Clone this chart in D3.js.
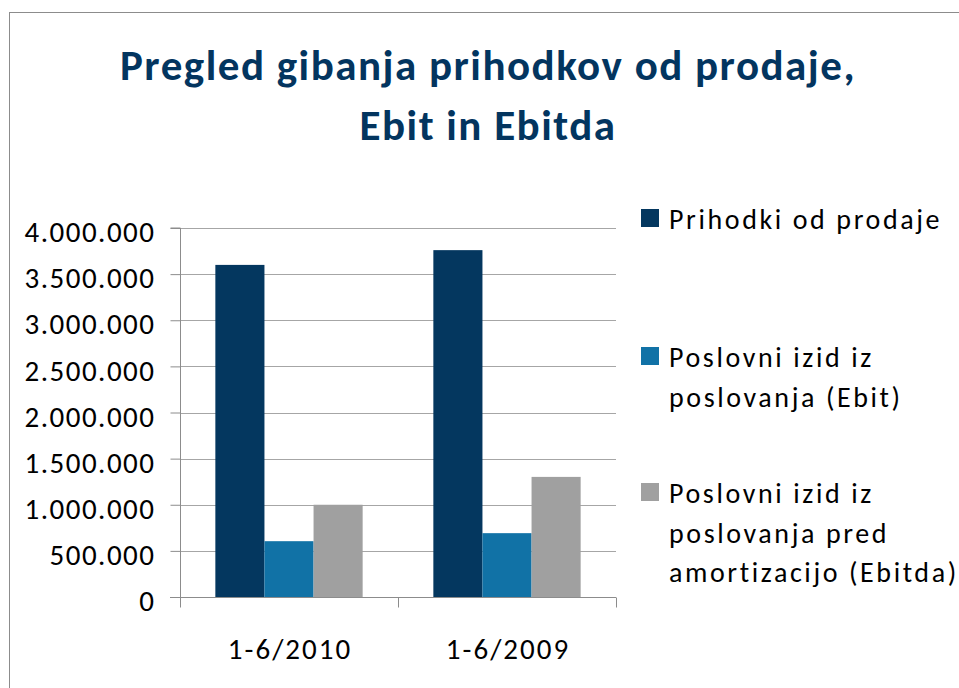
<!DOCTYPE html>
<html>
<head>
<meta charset="utf-8">
<script src="https://cdn.jsdelivr.net/npm/d3@7"></script>
<style>
  body { margin: 0; background: #fff; }
  text { font-family: Carlito, Lato, "Open Sans", sans-serif; }
</style>
</head>
<body>
<div id="chart"></div>
<script>
// chart values
var categories = ["1-6/2010", "1-6/2009"];
var seriesNames = [
  "Prihodki od prodaje",
  "Poslovni izid iz poslovanja (Ebit)",
  "Poslovni izid iz poslovanja pred amortizacijo (Ebitda)"
];
var prihodki = [3600000, 3760000];
var ebit = [605000, 692000];
var ebitda = [1000000, 1302000];
var yTicks = [0, 500000, 1000000, 1500000, 2000000, 2500000, 3000000, 3500000, 4000000];
var legendLines = [
  ["Prihodki od prodaje"],
  ["Poslovni izid iz", "poslovanja (Ebit)"],
  ["Poslovni izid iz", "poslovanja pred", "amortizacijo (Ebitda)"]
];
var titleLines = ["Pregled gibanja prihodkov od prodaje,", "Ebit in Ebitda"];

var colors = ["#04375f", "#1172a6", "#a0a0a0"];
var values = [prihodki, ebit, ebitda];

var width = 959, height = 688;
var plot = {left: 180, right: 616, top: 228, bottom: 597};

var svg = d3.select("#chart").append("svg")
    .attr("width", width)
    .attr("height", height);

// outer frame (runs off the right and bottom edge)
svg.append("rect")
    .attr("x", 9.5).attr("y", 12.5)
    .attr("width", 1000).attr("height", 1000)
    .attr("fill", "none")
    .attr("stroke", "#8c8c8c");

// title
svg.append("g").selectAll("text")
    .data(titleLines)
  .enter().append("text")
    .attr("x", 488)
    .attr("y", function(d, i) { return 80 + i * 60; })
    .attr("text-anchor", "middle")
    .attr("font-size", 43)
    .attr("font-weight", "bold")
    .attr("letter-spacing", 1.5)
    .attr("fill", "#03355f")
    .text(function(d) { return d; });

// scales
var y = d3.scaleLinear().domain([0, 4000000]).range([plot.bottom, plot.top]);
var x0 = d3.scaleBand().domain(categories).range([plot.left, plot.right]);
var x1 = d3.scaleBand().domain(d3.range(seriesNames.length))
    .range([0, x0.bandwidth()])
    .paddingInner(0).paddingOuter(0.72);

var fmt = d3.formatLocale({decimal: ",", thousands: ".", grouping: [3], currency: ["", ""]}).format(",d");

// gridlines
svg.append("g").selectAll("line")
    .data(yTicks.slice(1))
  .enter().append("line")
    .attr("x1", plot.left).attr("x2", plot.right)
    .attr("y1", function(d) { return Math.round(y(d)) + 0.5; })
    .attr("y2", function(d) { return Math.round(y(d)) + 0.5; })
    .attr("stroke", "#a6a6a6");

// bars
svg.append("g").selectAll("g")
    .data(categories)
  .enter().append("g")
    .attr("transform", function(d) { return "translate(" + x0(d) + ",0)"; })
  .selectAll("rect")
    .data(function(d, ci) { return values.map(function(v, si) { return {s: si, v: v[ci]}; }); })
  .enter().append("rect")
    .attr("x", function(d) { return x1(d.s); })
    .attr("width", x1.bandwidth())
    .attr("y", function(d) { return y(d.v); })
    .attr("height", function(d) { return y(0) - y(d.v); })
    .attr("fill", function(d) { return colors[d.s]; });

// y axis
var yAxis = svg.append("g")
    .attr("transform", "translate(" + (plot.left + 0.5) + ",0)")
    .call(d3.axisLeft(y).tickValues(yTicks).tickFormat(fmt).tickSize(10).tickPadding(15));
yAxis.select(".domain").attr("stroke", "#8c8c8c").attr("d", "M-10," + plot.top + "H0V" + plot.bottom);
yAxis.selectAll(".tick line").attr("stroke", "#8c8c8c");
yAxis.selectAll(".tick text")
    .attr("font-size", 29)
    .attr("letter-spacing", 1.5)
    .attr("fill", "#000")
    .attr("dy", "0.47em")
    .style("font-family", "Carlito, Lato, 'Open Sans', sans-serif");

// x axis
var xAxis = svg.append("g")
    .attr("transform", "translate(0," + (plot.bottom + 0.5) + ")");
xAxis.append("line")
    .attr("x1", plot.left - 10).attr("x2", plot.right)
    .attr("stroke", "#8c8c8c");
xAxis.selectAll(".xtick")
    .data(categories.concat([null]))
  .enter().append("line")
    .attr("x1", function(d, i) { return (i < categories.length ? x0(d) : plot.right) + 0.5; })
    .attr("x2", function(d, i) { return (i < categories.length ? x0(d) : plot.right) + 0.5; })
    .attr("y1", 0).attr("y2", 10)
    .attr("stroke", "#8c8c8c");
xAxis.selectAll(".xlabel")
    .data(categories)
  .enter().append("text")
    .attr("x", function(d) { return x0(d) + x0.bandwidth() / 2 + 1; })
    .attr("y", 61)
    .attr("text-anchor", "middle")
    .attr("font-size", 29)
    .attr("letter-spacing", 2)
    .text(function(d) { return d; });

// legend
var legendTop = [209, 347, 483];
var legend = svg.append("g").selectAll("g")
    .data(legendLines)
  .enter().append("g")
    .attr("transform", function(d, i) { return "translate(641," + legendTop[i] + ")"; });
legend.append("rect")
    .attr("width", 18).attr("height", 18)
    .attr("fill", function(d, i) { return colors[i]; });
legend.selectAll("text")
    .data(function(d) { return d; })
  .enter().append("text")
    .attr("x", 28)
    .attr("y", function(d, i) { return 20 + i * 39.5; })
    .attr("font-size", 28)
    .attr("letter-spacing", 2.6)
    .text(function(d) { return d; });
</script>
</body>
</html>
